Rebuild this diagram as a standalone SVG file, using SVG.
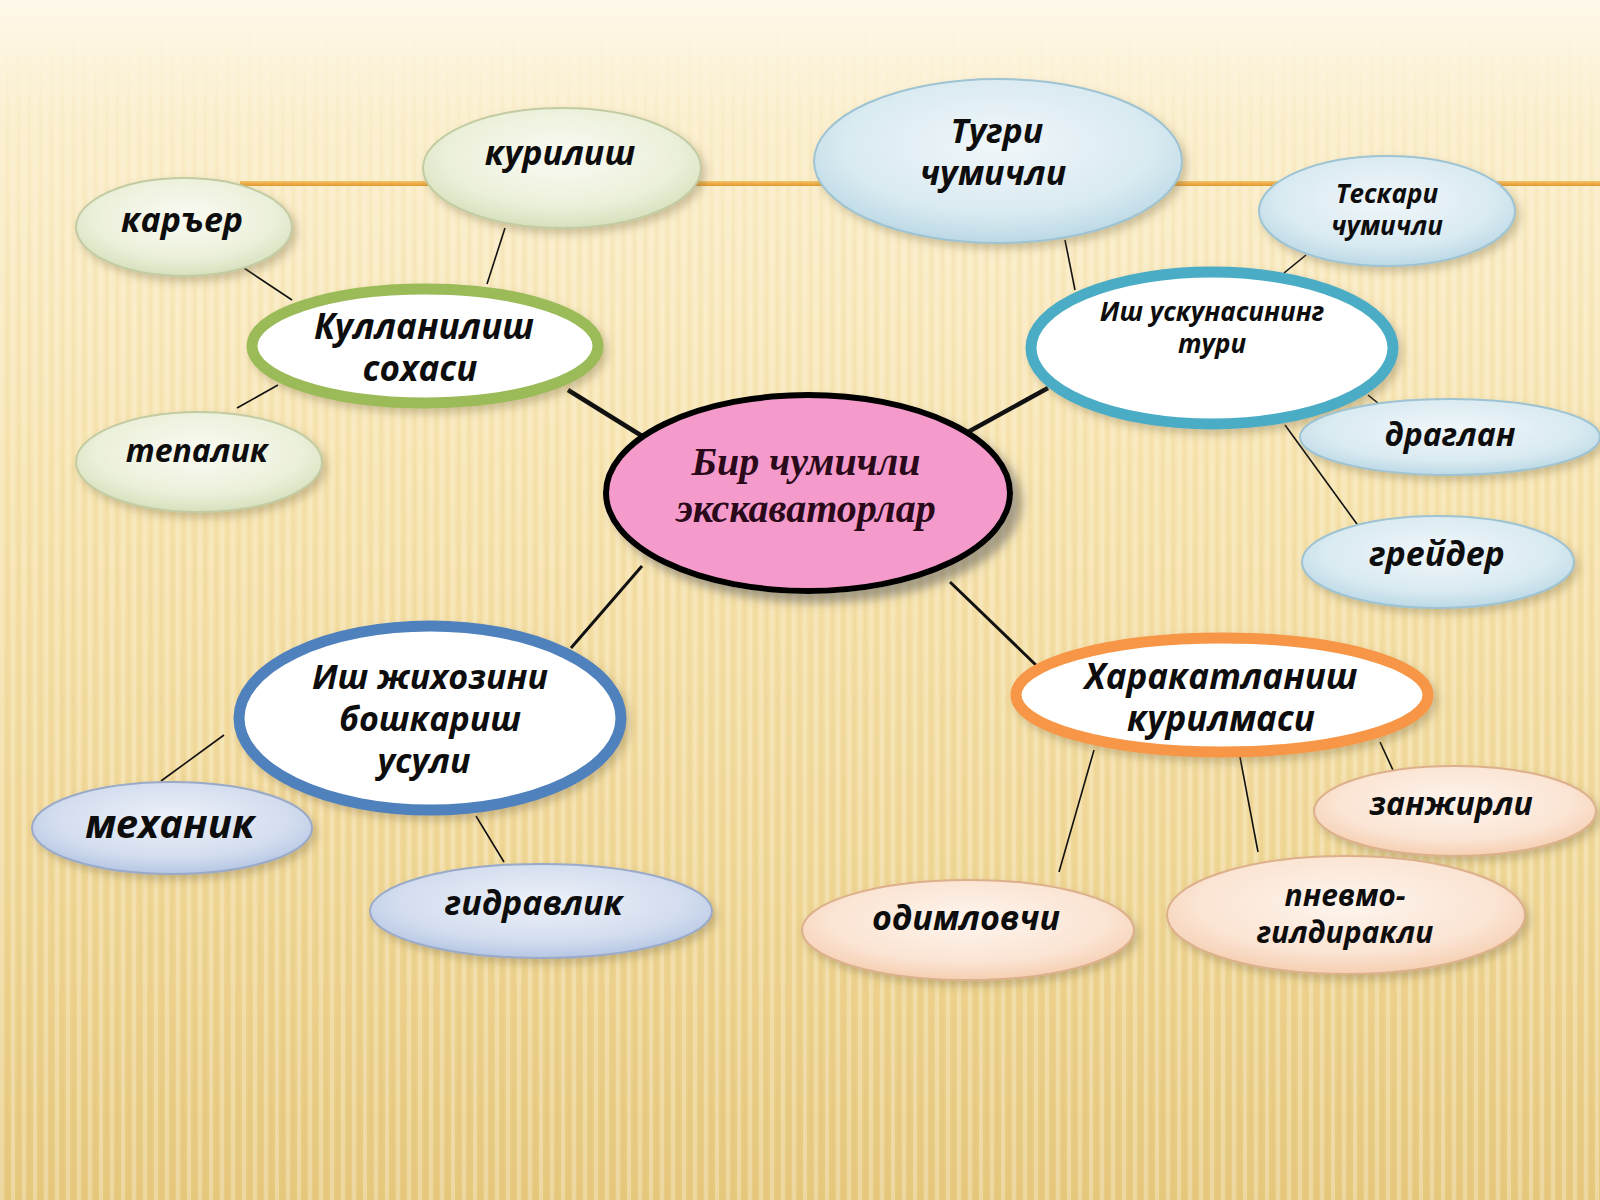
<svg xmlns="http://www.w3.org/2000/svg" width="1600" height="1200" viewBox="0 0 1600 1200">
<defs>
<linearGradient id="bg" x1="0" y1="0" x2="0" y2="1">
<stop offset="0" stop-color="#FEF8EA"/>
<stop offset="0.1" stop-color="#FBEFCD"/>
<stop offset="0.4" stop-color="#F7E4B0"/>
<stop offset="0.75" stop-color="#F0D796"/>
<stop offset="1" stop-color="#E7C97E"/>
</linearGradient>
<pattern id="stripes" width="11" height="1200" patternUnits="userSpaceOnUse">
<rect x="0" y="0" width="4" height="1200" fill="#FFFFFF" opacity="0.28"/>
<rect x="6" y="0" width="3" height="1200" fill="#D9B66A" opacity="0.12"/>
</pattern>
<linearGradient id="stripeFade" x1="0" y1="0" x2="0" y2="1">
<stop offset="0" stop-color="#fff" stop-opacity="0"/>
<stop offset="0.2" stop-color="#fff" stop-opacity="0.6"/>
<stop offset="1" stop-color="#fff" stop-opacity="1"/>
</linearGradient>
<mask id="fadeMask"><rect width="1600" height="1200" fill="url(#stripeFade)"/></mask>
<linearGradient id="orangeLine" x1="0" y1="0" x2="0" y2="1">
<stop offset="0" stop-color="#F6C46A"/>
<stop offset="1" stop-color="#E2982C"/>
</linearGradient>
<radialGradient id="gGreen" cx="0.5" cy="0.4" r="0.6">
<stop offset="0" stop-color="#FAFBF3"/>
<stop offset="0.7" stop-color="#EBF0DA"/>
<stop offset="1" stop-color="#D6E0BC"/>
</radialGradient>
<radialGradient id="gAqua" cx="0.5" cy="0.4" r="0.6">
<stop offset="0" stop-color="#F1F7FA"/>
<stop offset="0.7" stop-color="#D9EAF1"/>
<stop offset="1" stop-color="#BCD9E6"/>
</radialGradient>
<radialGradient id="gBlue" cx="0.5" cy="0.4" r="0.6">
<stop offset="0" stop-color="#EEF2F9"/>
<stop offset="0.7" stop-color="#D3DDEF"/>
<stop offset="1" stop-color="#B6C7E4"/>
</radialGradient>
<radialGradient id="gPeach" cx="0.5" cy="0.4" r="0.6">
<stop offset="0" stop-color="#FEF5EE"/>
<stop offset="0.7" stop-color="#FBE4D3"/>
<stop offset="1" stop-color="#F5CFB2"/>
</radialGradient>
<filter id="sh" x="-20%" y="-20%" width="150%" height="150%">
<feDropShadow dx="4" dy="5" stdDeviation="4" flood-color="#7a6a40" flood-opacity="0.35"/>
</filter>
<filter id="shBig" x="-20%" y="-20%" width="150%" height="150%">
<feDropShadow dx="9" dy="9" stdDeviation="5" flood-color="#555" flood-opacity="0.5"/>
</filter>
</defs>
<style>
.t{font-family:"Open Sans","Noto Sans","Liberation Sans",sans-serif;font-weight:bold;font-style:italic;fill:#0d0d0d;text-anchor:middle}
.ts{font-family:"Liberation Serif","DejaVu Serif",serif;font-weight:bold;font-style:italic;fill:#2a0a1a;text-anchor:middle}
.thin{stroke:#111;stroke-width:1.6;fill:none}
.thick{stroke:#111;stroke-width:4.5;fill:none}
.mid{stroke:#111;stroke-width:3;fill:none}
.leafG{fill:url(#gGreen);stroke:#C3CBA2;stroke-width:2}
.leafA{fill:url(#gAqua);stroke:#9EC3D2;stroke-width:2}
.leafB{fill:url(#gBlue);stroke:#9AAAC8;stroke-width:2}
.leafP{fill:url(#gPeach);stroke:#DDB08C;stroke-width:2}
.ring{fill:#FFFFFF;stroke-width:11}
</style>

<!-- background -->
<rect width="1600" height="1200" fill="url(#bg)"/>
<rect width="1600" height="1200" fill="url(#stripes)" mask="url(#fadeMask)"/>
<rect x="240" y="181" width="1360" height="5" fill="url(#orangeLine)"/>

<!-- connectors -->
<g id="connectors">
<line class="thick" x1="568" y1="390" x2="642" y2="436"/>
<line class="thick" x1="968" y1="432" x2="1048" y2="388"/>
<line class="mid" x1="642" y1="566" x2="571" y2="648"/>
<line class="mid" x1="950" y1="582" x2="1039" y2="668"/>
<line class="thin" x1="238" y1="264" x2="292" y2="300"/>
<line class="thin" x1="278" y1="385" x2="237" y2="408"/>
<line class="thin" x1="505" y1="228" x2="487" y2="284"/>
<line class="thin" x1="1065" y1="240" x2="1075" y2="290"/>
<line class="thin" x1="1306" y1="255" x2="1284" y2="273"/>
<line class="thin" x1="1368" y1="395" x2="1395" y2="417"/>
<line class="thin" x1="1285" y1="425" x2="1370" y2="542"/>
<line class="thin" x1="224" y1="735" x2="161" y2="781"/>
<line class="thin" x1="476" y1="816" x2="504" y2="862"/>
<line class="thin" x1="1380" y1="742" x2="1398" y2="781"/>
<line class="thin" x1="1240" y1="757" x2="1258" y2="852"/>
<line class="thin" x1="1094" y1="750" x2="1059" y2="872"/>
</g>

<!-- central node -->
<g id="center">
<ellipse cx="808" cy="493" rx="202" ry="98" fill="#F59BCB" stroke="#000" stroke-width="6" filter="url(#shBig)"/>
<text class="ts" x="806" y="475" font-size="40">Бир чумичли</text>
<text class="ts" x="806" y="522" font-size="40">экскаваторлар</text>
</g>

<!-- category rings -->
<g id="kullanilish">
<ellipse class="ring" cx="425" cy="346" rx="173" ry="57" stroke="#9BBB59" filter="url(#sh)"/>
<text class="t" x="424" y="339" font-size="35">Кулланилиш</text>
<text class="t" x="420" y="381" font-size="35">сохаси</text>
</g>
<g id="ish-uskuna">
<ellipse class="ring" cx="1212" cy="348" rx="181" ry="76" stroke="#4BACC6" filter="url(#sh)"/>
<text class="t" x="1212" y="321" font-size="26">Иш ускунасининг</text>
<text class="t" x="1212" y="353" font-size="26">тури</text>
</g>
<g id="ish-jihoz">
<ellipse class="ring" cx="430" cy="718" rx="191" ry="92" stroke="#4F81BD" filter="url(#sh)"/>
<text class="t" x="430" y="689" font-size="34">Иш жихозини</text>
<text class="t" x="430" y="731" font-size="34">бошкариш</text>
<text class="t" x="424" y="773" font-size="34">усули</text>
</g>
<g id="harakat">
<ellipse class="ring" cx="1222" cy="695" rx="206" ry="57" stroke="#F79646" filter="url(#sh)"/>
<text class="t" x="1221" y="689" font-size="35">Харакатланиш</text>
<text class="t" x="1221" y="731" font-size="35">курилмаси</text>
</g>

<!-- leaves -->
<g id="karyer">
<ellipse class="leafG" cx="184" cy="227" rx="108" ry="49" filter="url(#sh)"/>
<text class="t" x="182" y="232" font-size="34">каръер</text>
</g>
<g id="kurilish">
<ellipse class="leafG" cx="562" cy="168" rx="139" ry="60" filter="url(#sh)"/>
<text class="t" x="560" y="165" font-size="34">курилиш</text>
</g>
<g id="tepalik">
<ellipse class="leafG" cx="199" cy="462" rx="123" ry="50" filter="url(#sh)"/>
<text class="t" x="197" y="462" font-size="32">тепалик</text>
</g>
<g id="tugri">
<ellipse class="leafA" cx="998" cy="161" rx="184" ry="82" filter="url(#sh)"/>
<text class="t" x="997" y="143" font-size="34">Тугри</text>
<text class="t" x="993" y="185" font-size="34">чумичли</text>
</g>
<g id="teskari">
<ellipse class="leafA" cx="1387" cy="211" rx="128" ry="55" filter="url(#sh)"/>
<text class="t" x="1387" y="203" font-size="26">Тескари</text>
<text class="t" x="1387" y="235" font-size="26">чумичли</text>
</g>
<g id="draglan">
<ellipse class="leafA" cx="1450" cy="437" rx="150" ry="38" filter="url(#sh)"/>
<text class="t" x="1450" y="446" font-size="32">драглан</text>
</g>
<g id="greyder">
<ellipse class="leafA" cx="1438" cy="562" rx="136" ry="46" filter="url(#sh)"/>
<text class="t" x="1437" y="566" font-size="34">грейдер</text>
</g>
<g id="mexanik">
<ellipse class="leafB" cx="172" cy="828" rx="140" ry="46" filter="url(#sh)"/>
<text class="t" x="170" y="838" font-size="40">механик</text>
</g>
<g id="gidravlik">
<ellipse class="leafB" cx="541" cy="911" rx="171" ry="47" filter="url(#sh)"/>
<text class="t" x="534" y="915" font-size="34">гидравлик</text>
</g>
<g id="zanjirli">
<ellipse class="leafP" cx="1455" cy="811" rx="141" ry="45" filter="url(#sh)"/>
<text class="t" x="1451" y="815" font-size="32">занжирли</text>
</g>
<g id="pnevmo">
<ellipse class="leafP" cx="1346" cy="915" rx="179" ry="59" filter="url(#sh)"/>
<text class="t" x="1345" y="906" font-size="30">пневмо-</text>
<text class="t" x="1345" y="943" font-size="30">гилдиракли</text>
</g>
<g id="odimlovchi">
<ellipse class="leafP" cx="968" cy="930" rx="166" ry="50" filter="url(#sh)"/>
<text class="t" x="966" y="930" font-size="34">одимловчи</text>
</g>
</svg>
